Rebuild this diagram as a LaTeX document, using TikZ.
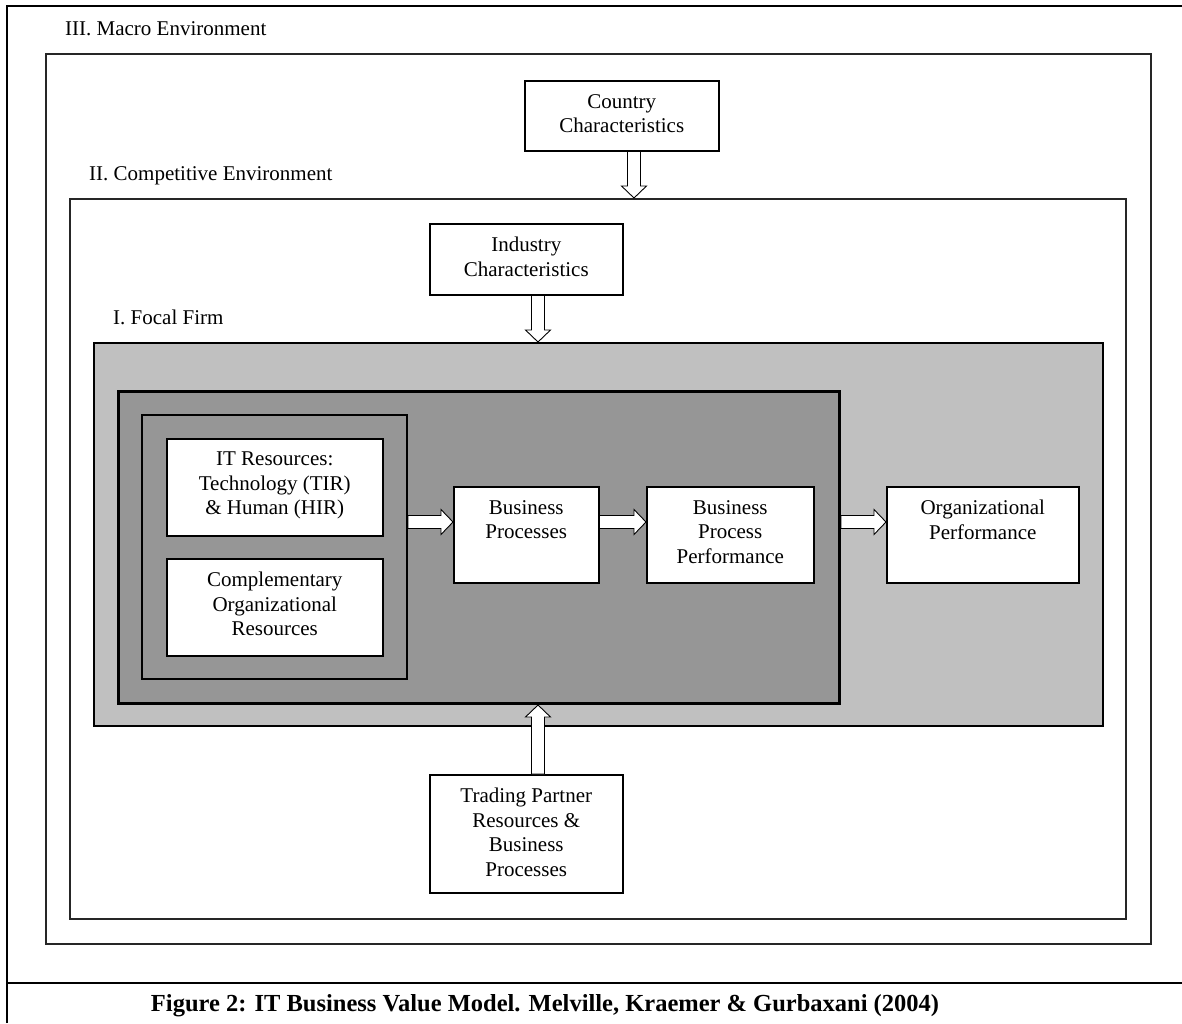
\documentclass[tikz,border=0pt]{standalone}
\usepackage{fontspec}
\setmainfont{Liberation Serif}
\usetikzlibrary{calc}
\definecolor{lgray}{HTML}{C0C0C0}
\definecolor{dgray}{HTML}{969696}
\tikzset{
  bx/.style={draw=black, line width=1.5pt, fill=white, inner sep=0pt, anchor=north west},
  envbox/.style={bx, draw=black!85, line width=1.6pt},
  txt/.style={font=\fontsize{21}{24.5}\selectfont, align=center, inner sep=0pt, anchor=north},
  lbl/.style={font=\fontsize{21}{24.5}\selectfont, inner sep=0pt, anchor=base west},
  barrow/.style={draw=black, fill=white, line width=0.9pt, line join=miter,
    to path={($(\tikztotarget)!12pt!(\tikztostart)$) coordinate (hh)
      ($(\tikztostart)!6.5pt!90:(\tikztotarget)$) -- ($(hh)!6.5pt!90:(\tikztotarget)$)
      -- ($(hh)!12.5pt!90:(\tikztotarget)$) -- (\tikztotarget)
      -- ($(hh)!12.5pt!-90:(\tikztotarget)$) -- ($(hh)!6.5pt!-90:(\tikztotarget)$)
      -- ($(\tikztostart)!6.5pt!-90:(\tikztotarget)$) -- cycle}}
}
\begin{document}
\begin{tikzpicture}[x=1pt,y=-1pt]
\useasboundingbox (0,0) rectangle (1182,1023);
% outer frame
\draw[line width=2pt] (7,1023) -- (7,5.5) -- (1182,5.5);
\draw[line width=2pt] (7,983) -- (1182,983);
% environments
\node[envbox, minimum width=1105pt, minimum height=890pt] (macro) at (45,53) {};
\node[lbl] (lmacro) at (65,35) {III. Macro Environment};
\node[envbox, minimum width=1056pt, minimum height=720pt] (comp) at (69,198) {};
\node[lbl] (lcomp) at (89,180) {II. Competitive Environment};
\node[bx, fill=lgray, line width=2pt, minimum width=1009pt, minimum height=383pt] (focal) at (93,342) {};
\node[lbl] (lfocal) at (113,324) {I. Focal Firm};
\node[bx, fill=dgray, line width=3pt, minimum width=721pt, minimum height=312pt] (inner) at (117,390) {};
\node[bx, fill=dgray, line width=2pt, minimum width=265pt, minimum height=264pt] (res) at (141,414) {};
% boxes
\node[bx, minimum width=216pt, minimum height=97pt] (itr) at (166,438) {};
\node[txt] at ($(itr.north)+(0,14)$) {IT Resources:\\Technology (TIR)\\\& Human (HIR)};
\node[bx, minimum width=216pt, minimum height=97pt] (cor) at (166,558) {};
\node[txt] at ($(cor.north)+(0,14)$) {Complementary\\Organizational\\Resources};
\node[bx, minimum width=145pt, minimum height=96pt] (bp) at (453,486) {};
\node[txt] at ($(bp.north)+(0,14)$) {Business\\Processes};
\node[bx, minimum width=167pt, minimum height=96pt] (bpp) at (646,486) {};
\node[txt] at ($(bpp.north)+(0,14)$) {Business\\Process\\Performance};
\node[bx, minimum width=192pt, minimum height=96pt] (org) at (886,486) {};
\node[txt] at ($(org.north)+(0,14)$) {Organizational\\Performance};
\node[bx, minimum width=194pt, minimum height=70pt] (country) at (524,80) {};
\node[txt] at ($(country.north)+(0,14)$) {Country\\Characteristics};
\node[bx, minimum width=193pt, minimum height=71pt] (ind) at (429,223) {};
\node[txt] at ($(ind.north)+(0,14)$) {Industry\\Characteristics};
\node[bx, minimum width=193pt, minimum height=118pt] (trade) at (429,774) {};
\node[txt] at ($(trade.north)+(0,14)$) {Trading Partner\\Resources \&\\Business\\Processes};
% arrows
\coordinate (ay) at (0,522);
\coordinate (cx) at (634,0);
\coordinate (ix) at (538,0);
\draw[barrow] (res.east |- ay) to (bp.west |- ay);
\draw[barrow] (bp.east |- ay) to (bpp.west |- ay);
\draw[barrow] (inner.east |- ay) to (org.west |- ay);
\draw[barrow] (cx |- country.south) to (cx |- comp.north);
\draw[barrow] (ix |- ind.south) to (ix |- focal.north);
\draw[barrow] (ix |- trade.north) to (ix |- inner.south);
% caption
\node[font=\bfseries\fontsize{24.5}{28}\selectfont, inner sep=0pt, anchor=base] (cap) at (545,1011) {Figure 2: IT Business Value Model. Melville, Kraemer \& Gurbaxani (2004)};
\end{tikzpicture}
\end{document}
